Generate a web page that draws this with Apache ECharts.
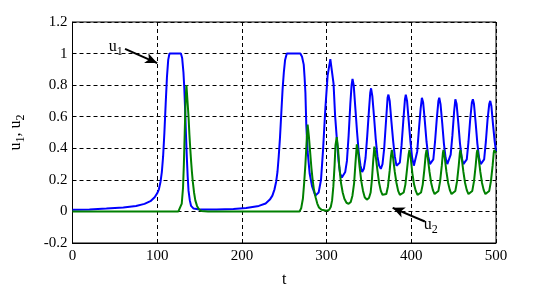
<!DOCTYPE html>
<html>
<head>
<meta charset="utf-8">
<script src="https://cdn.jsdelivr.net/npm/echarts@6/dist/echarts.min.js"></script>
<style>
html,body{margin:0;padding:0;background:#fff;}
#chart{width:549px;height:293px;}
</style>
</head>
<body>
<div id="chart"></div>
<script>
// ---- Data (t, value) ----
var xTicks = [0, 100, 200, 300, 400, 500];
var yTicks = [-0.2, 0, 0.2, 0.4, 0.6, 0.8, 1, 1.2];

var u1Pulse1 = [[0,0.01],[20,0.013],[40,0.018],[60,0.025],[75,0.035],[85,0.048],[92,0.065],[97,0.09],[100,0.115],[102,0.14],[104,0.19],[105.5,0.25],[107,0.35],[108.5,0.5],[110,0.68],[111.5,0.85],[113,0.96],[114.5,1.0],[128,1.0],[129.5,0.97],[131,0.88],[132,0.78],[133,0.64],[134,0.48],[135,0.34],[136,0.22],[137,0.13],[138.5,0.07],[140,0.035],[143,0.018],[150,0.012]];
var u1Pulse2 = [[170,0.013],[190,0.016],[205,0.022],[220,0.035],[228,0.05],[233,0.075],[236,0.1],[238.5,0.14],[240.5,0.19],[242,0.25],[243.5,0.35],[245,0.47],[246.5,0.62],[248,0.77],[249.5,0.88],[251,0.96],[253,1.0],[269,1.0],[271,0.98],[273,0.93],[274,0.85],[275,0.75],[276,0.55],[277.6,0.38],[280,0.24],[282.8,0.16],[286.7,0.1],[290.6,0.12],[293.4,0.2],[295.7,0.38],[298.5,0.65],[301.2,0.86],[304.4,0.965],[306.3,0.96],[308.2,0.81],[310,0.61],[312.2,0.45],[314.1,0.32],[316,0.24],[318,0.215],[320,0.215],[322,0.25],[324,0.32],[326,0.48],[328,0.68],[329.5,0.8],[330.6,0.84],[332,0.8],[334,0.65],[336,0.5],[338,0.37],[340,0.29],[342,0.25],[344,0.27],[346,0.34],[348,0.48],[350,0.64],[351.5,0.75],[352.5,0.78],[354,0.73],[356,0.6],[358,0.46],[360,0.35],[362,0.29],[364,0.27],[366,0.3],[368,0.4],[370,0.56],[372,0.72],[373,0.74],[374.5,0.7],[376.5,0.57],[378.5,0.45],[380.5,0.35],[382.5,0.29],[384.5,0.28],[386.5,0.31],[388.5,0.42],[390.5,0.57],[392.5,0.71],[393.5,0.74],[395,0.7],[397,0.57],[399,0.44],[401,0.34],[403,0.29]];
var u1Tail = [[405,0.3],[407,0.38],[409,0.52],[411,0.65],[412.5,0.72],[414,0.69],[416,0.57],[418,0.44],[420,0.35],[422,0.3],[424,0.29],[426,0.33],[428,0.44],[430,0.58],[432,0.7],[433,0.72],[434.5,0.68],[436.5,0.56],[438.5,0.43],[440.5,0.34],[442.5,0.3],[444.5,0.3],[446.5,0.36],[448.5,0.48],[450.5,0.63],[452,0.71],[453.5,0.68],[455.5,0.56],[457.5,0.43],[459.5,0.34],[461.5,0.3],[463.5,0.29],[465.5,0.33],[467.5,0.44],[469.5,0.58],[471.5,0.69],[472.7,0.71],[474,0.68],[476,0.56],[478,0.43],[480,0.34],[482,0.3],[484,0.29],[486,0.33],[488,0.44],[490,0.58],[492,0.68],[493.2,0.7],[494.5,0.67],[496.5,0.55],[498.5,0.44],[500,0.38]];

var u2Pulse1 = [[0,0],[125,0],[127,0.01],[129,0.05],[130.5,0.15],[131.5,0.3],[132.5,0.5],[133.5,0.7],[134.5,0.8],[135.5,0.72],[137,0.6],[138,0.49],[139,0.4],[140,0.32],[141,0.25],[142,0.19],[143.5,0.12],[145,0.07],[147,0.035],[149,0.015],[152,0.003],[160,0]];
var u2Pulse2 = [[268,0],[270,0.02],[272,0.08],[273.5,0.18],[275,0.3],[276.5,0.45],[277.6,0.55],[279,0.48],[280.5,0.38],[282,0.28],[283.5,0.2],[285,0.14],[287,0.09],[289,0.05],[291,0.025],[294,0.01],[300,0.005],[303,0.01],[305,0.03],[306.5,0.07],[308,0.16],[309.5,0.3],[310.5,0.42],[312,0.47],[313.5,0.4],[315,0.28],[317,0.18],[319,0.12],[321,0.08],[323.5,0.055],[326,0.048],[328.5,0.06],[330.5,0.1],[332.5,0.18],[334,0.3],[335.7,0.425],[337.3,0.37],[339,0.28],[341,0.19],[343,0.13],[345,0.09],[347.5,0.075],[350,0.085],[352,0.12],[353.5,0.2],[355,0.32],[356.4,0.41],[358,0.35],[360,0.26],[362,0.18],[364,0.13],[366,0.105],[368,0.1],[370.5,0.11],[372.5,0.16],[374.5,0.26],[376,0.35],[377,0.39],[378.5,0.34],[380.5,0.25],[382.5,0.18],[384.5,0.13],[386.5,0.105],[388.5,0.1]];
var u2Tail = [[391,0.12],[393,0.17],[395,0.27],[396.8,0.36],[397.8,0.39],[399.3,0.34],[401.3,0.24],[403.3,0.17],[405.3,0.13],[407.3,0.105],[409,0.1],[411.5,0.12],[413.5,0.17],[415.5,0.27],[417,0.36],[418,0.39],[419.5,0.34],[421.5,0.25],[423.5,0.18],[425.5,0.135],[427.5,0.11],[429.5,0.11],[432,0.13],[434,0.19],[436,0.29],[437.3,0.37],[438,0.39],[439.5,0.34],[441.5,0.25],[443.5,0.18],[445.5,0.135],[447.5,0.11],[449.5,0.11],[452,0.13],[454,0.19],[456,0.29],[457.3,0.37],[458,0.39],[459.5,0.34],[461.5,0.25],[463.5,0.18],[465.5,0.135],[467.5,0.11],[469.5,0.11],[472,0.13],[474,0.19],[476,0.29],[477.3,0.37],[478,0.39],[479.5,0.34],[481.5,0.25],[483.5,0.18],[485.5,0.135],[487.5,0.11],[489.5,0.11],[492,0.13],[494,0.19],[496,0.29],[497.3,0.37],[498,0.39],[499,0.38],[500,0.37]];

// annotation anchors (data units)
var u1Arrow = [[62, 1.03], [100, 0.94]];
var u2Arrow = [[416, -0.064], [378, 0.023]];
var u1LabelAt = [51, 1.04];
var u2LabelAt = [423, -0.085];

var u1 = u1Pulse1.concat(u1Pulse2, u1Tail);
var u2 = u2Pulse1.concat(u2Pulse2, u2Tail);

var serif = '"Liberation Serif", "Times New Roman", serif';
var richSub = {
  a: {fontFamily: serif, fontSize: 16, color: '#000'},
  s: {fontFamily: serif, fontSize: 12, color: '#000', padding: [9, 0, 0, 0]}
};

var chart = echarts.init(document.getElementById('chart'), null, {renderer: 'canvas'});
chart.setOption({
  animation: false,
  backgroundColor: '#fff',
  grid: {left: 71, right: 53, top: 22, bottom: 42, show: true, borderColor: '#000', borderWidth: 1, backgroundColor: 'transparent'},
  xAxis: {
    type: 'value', min: xTicks[0], max: xTicks[xTicks.length - 1], interval: 100,
    name: 't', nameLocation: 'middle', nameGap: 29,
    nameTextStyle: {fontFamily: serif, fontSize: 16, color: '#000'},
    axisLine: {show: true, onZero: false, lineStyle: {color: '#000', width: 1}},
    axisTick: {show: false},
    axisLabel: {fontFamily: serif, fontSize: 15, color: '#000', margin: 6},
    splitLine: {show: true, lineStyle: {color: '#000', type: [4, 3], width: 1}}
  },
  yAxis: {
    type: 'value', min: yTicks[0], max: yTicks[yTicks.length - 1], interval: 0.2,
    name: '{a|u}{s|1}{a|, u}{s|2}', nameLocation: 'middle', nameGap: 46, nameRotate: 90,
    nameTextStyle: {rich: richSub},
    axisLine: {show: true, onZero: false, lineStyle: {color: '#000', width: 1}},
    axisTick: {show: false},
    axisLabel: {fontFamily: serif, fontSize: 15, color: '#000', margin: 5,
      formatter: function (v) { return String(Math.round(v * 10) / 10); }},
    splitLine: {show: true, lineStyle: {color: '#000', type: [4, 3], width: 1}}
  },
  series: [
    {
      name: 'u1', type: 'line', data: u1, showSymbol: false, symbol: 'none',
      lineStyle: {color: '#0000ff', width: 2}, z: 2,
      markLine: {
        silent: true, symbol: ['none', 'arrow'], symbolSize: [8, 12],
        label: {show: false},
        lineStyle: {color: '#000', width: 2, type: 'solid'},
        data: [
          [{coord: u1Arrow[0]}, {coord: u1Arrow[1]}],
          [{coord: u2Arrow[0]}, {coord: u2Arrow[1]}]
        ]
      },
      markPoint: {
        silent: true, symbol: 'circle', symbolSize: 0,
        label: {show: true, position: 'inside', rich: richSub},
        data: [
          {coord: u1LabelAt, label: {formatter: '{a|u}{s|1}'}},
          {coord: u2LabelAt, label: {formatter: '{a|u}{s|2}'}}
        ]
      }
    },
    {
      name: 'u2', type: 'line', data: u2, showSymbol: false, symbol: 'none',
      lineStyle: {color: '#008000', width: 2}, z: 3
    }
  ]
});
</script>
</body>
</html>
